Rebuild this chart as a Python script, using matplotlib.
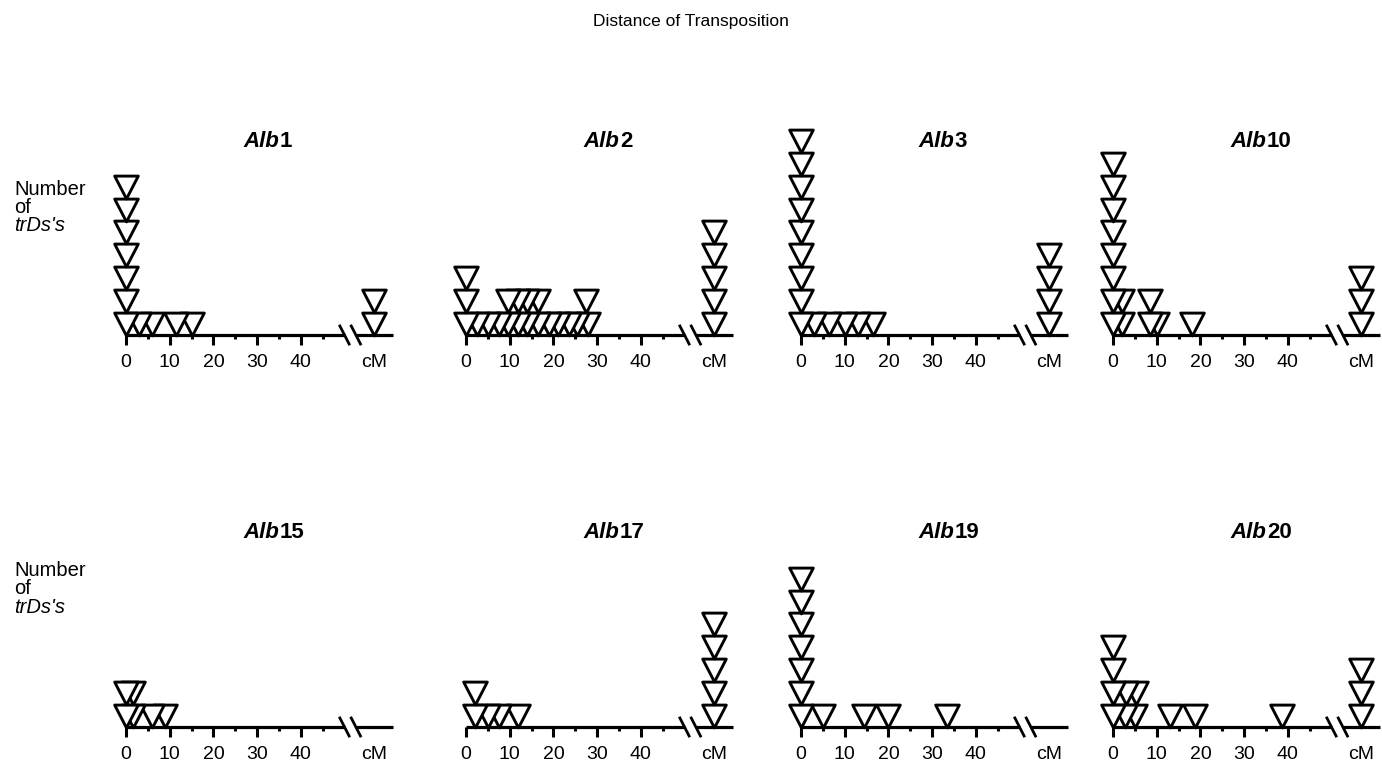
import matplotlib
matplotlib.use("Agg")
import matplotlib.pyplot as plt
from matplotlib import transforms
from matplotlib.path import Path
from matplotlib.markers import MarkerStyle

plt.rcParams['font.family'] = ['Liberation Sans', 'DejaVu Sans']

# ---------------- data ----------------
panel_labels = ["1", "2", "3", "10", "15", "17", "19", "20"]

alb1_cm    = [0, 3, 6, 11.5, 15, 0, 0, 0, 0, 0, 0]
alb1_level = [1, 1, 1, 1, 1, 2, 3, 4, 5, 6, 7]

alb2_cm    = [0, 2.5, 5, 7.5, 9.5, 12, 14, 16.5, 19, 21, 23.5, 25.5, 28,
              0, 9.5, 12, 14, 16.5, 27.5, 0]
alb2_level = [1, 1, 1, 1, 1, 1, 1, 1, 1, 1, 1, 1, 1,
              2, 2, 2, 2, 2, 2, 3]

alb3_cm    = [0, 3, 6.5, 10, 13, 16.5, 0, 0, 0, 0, 0, 0, 0, 0]
alb3_level = [1, 1, 1, 1, 1, 1, 2, 3, 4, 5, 6, 7, 8, 9]

alb10_cm    = [0, 2, 8.5, 10, 18, 0, 2, 8.5, 0, 0, 0, 0, 0, 0]
alb10_level = [1, 1, 1, 1, 1, 2, 2, 2, 3, 4, 5, 6, 7, 8]

alb15_cm    = [0, 1.7, 6, 9, 0, 1.7]
alb15_level = [1, 1, 1, 1, 2, 2]

alb17_cm    = [2, 5, 7.5, 12, 2]
alb17_level = [1, 1, 1, 1, 2]

alb19_cm    = [0, 5, 14.5, 20, 33.5, 0, 0, 0, 0, 0, 0]
alb19_level = [1, 1, 1, 1, 1, 2, 3, 4, 5, 6, 7]

alb20_cm    = [0, 2.7, 5, 13, 18.7, 38.6, 0, 3, 5.3, 0, 0]
alb20_level = [1, 1, 1, 1, 1, 1, 2, 2, 2, 3, 4]

unlinked = [2, 5, 4, 3, 0, 5, 0, 3]

major_ticks = [0, 10, 20, 30, 40]
major_labels = ["0", "10", "20", "30", "40"]
minor_ticks = [5, 15, 25, 35, 45]

# ---------------- layout ----------------
W, H, DPI = 1382, 770, 100
fig = plt.figure(figsize=(W / DPI, H / DPI), dpi=DPI)

px_per_cm = 4.37
xmax = 61.0
unit_px = 22.8
ymax = 10
unlinked_x = 56.8
break1, break2 = 50.0, 52.6
title_split_x = 35.2

panel_left_px = [126, 466, 801, 1113]
row_axis_px = [335, 727]
row_title_px = [147, 538]
ylabel_px = [[195, 213, 231], [576, 594, 613]]

tri_w_px = 23.6
ratio = unit_px / tri_w_px
tri_path = Path([(-1, ratio), (1, ratio), (0, -ratio), (-1, ratio)],
                [Path.MOVETO, Path.LINETO, Path.LINETO, Path.CLOSEPOLY])
tri_marker = MarkerStyle(tri_path, joinstyle='miter')
ms = tri_w_px / (DPI / 72.0)

panels = [(alb1_cm, alb1_level), (alb2_cm, alb2_level), (alb3_cm, alb3_level),
          (alb10_cm, alb10_level), (alb15_cm, alb15_level), (alb17_cm, alb17_level),
          (alb19_cm, alb19_level), (alb20_cm, alb20_level)]

fig.text(0.5, 1 - 26 / H, "Distance of Transposition", ha='center', va='baseline',
         fontsize=12.5)

for r in range(2):
    b1, b2, b3 = ylabel_px[r]
    fig.text(14 / W, 1 - b1 / H, "Number", fontsize=14.5, va='baseline', ha='left')
    fig.text(14 / W, 1 - b2 / H, "of", fontsize=14.5, va='baseline', ha='left')
    fig.text(14 / W, 1 - b3 / H, "trDs's", fontsize=14.5, va='baseline', ha='left',
             style='italic')

for i, (cm, lev) in enumerate(panels):
    r, c = divmod(i, 4)
    left = panel_left_px[c]
    axis_y = row_axis_px[r]
    ax = fig.add_axes([left / W, (H - axis_y) / H, xmax * px_per_cm / W, ymax * unit_px / H])
    ax.set_xlim(0, xmax)
    ax.set_ylim(0, ymax)
    for s in ax.spines.values():
        s.set_visible(False)
    ax.patch.set_alpha(0)
    ax.set_yticks([])

    # axis line with break
    ax.plot([0, break1], [0, 0], color='black', lw=2.3, clip_on=False, solid_capstyle='butt')
    ax.plot([break2, xmax], [0, 0], color='black', lw=2.3, clip_on=False, solid_capstyle='butt')
    for bx in (break1, break2):
        ax.plot([bx - 1.2, bx + 1.2], [0.45, -0.45], color='black', lw=2.0,
                clip_on=False, solid_capstyle='butt')

    ax.set_xticks(major_ticks + [unlinked_x])
    ax.set_xticklabels(major_labels + ["cM"], fontsize=14)
    ax.set_xticks(minor_ticks, minor=True)
    ax.tick_params(axis='x', which='major', direction='out', length=7.5, width=2.2, pad=6.5)
    ax.tick_params(axis='x', which='minor', direction='out', length=3.2, width=2.2)
    ax.xaxis.get_major_ticks()[-1].tick1line.set_visible(False)

    # triangles (linked), unlinked stack appended
    xs = list(cm) + [unlinked_x] * unlinked[i]
    ys = [l - 0.5 for l in lev] + [k + 0.5 for k in range(unlinked[i])]
    order = sorted(range(len(xs)), key=lambda k: (-xs[k], ys[k]))
    ax.plot([xs[k] for k in order], [ys[k] for k in order], linestyle='none',
            marker=tri_marker, markersize=ms, markerfacecolor='white',
            markeredgecolor='black', markeredgewidth=2.1, clip_on=False, zorder=3)

    tr = transforms.blended_transform_factory(ax.transData, fig.transFigure)
    ty = 1 - row_title_px[r] / H
    ax.text(title_split_x, ty, "Alb", transform=tr, ha='right', va='baseline',
            fontsize=16, fontweight='bold', style='italic')
    ax.text(title_split_x, ty, panel_labels[i], transform=tr, ha='left', va='baseline',
            fontsize=16, fontweight='bold')

fig.savefig("out.png", dpi=DPI)
